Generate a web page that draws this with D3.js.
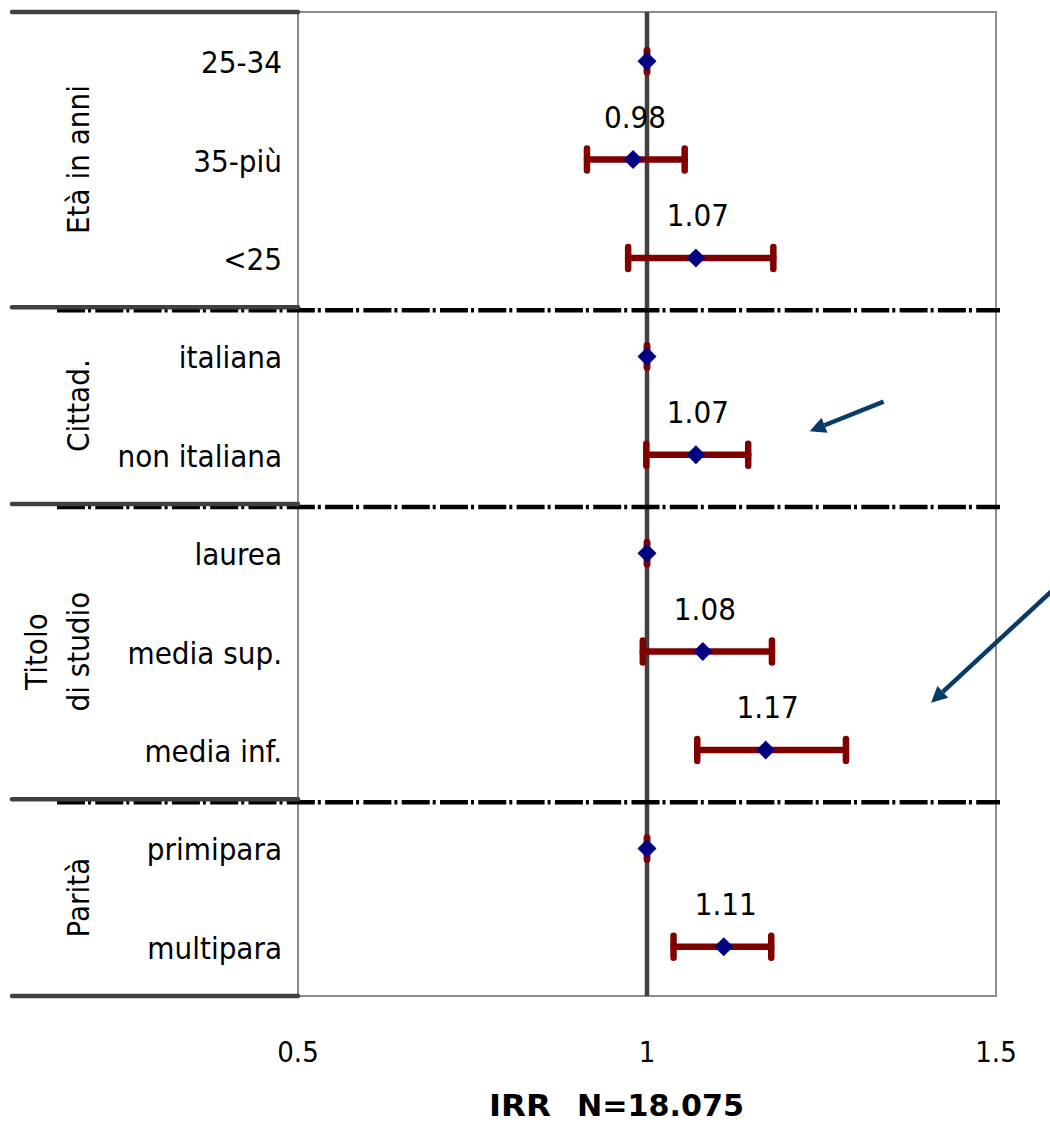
<!DOCTYPE html>
<html>
<head>
<meta charset="utf-8">
<script src="https://cdn.jsdelivr.net/npm/d3@7"></script>
<style>
  html, body { margin: 0; padding: 0; background: #fff; }
  svg { display: block; }
  text { font-family: "DejaVu Sans Condensed", "DejaVu Sans", sans-serif; font-stretch: condensed; fill: #000; }
</style>
</head>
<body>
<svg id="chart" width="1050" height="1122"></svg>
<script>
// Rows of the forest plot, top to bottom
const categories = ["25-34", "35-più", "<25", "italiana", "non italiana",
                    "laurea", "media sup.", "media inf.", "primipara", "multipara"];
// Incidence rate ratios and 95% confidence limits (reference levels = 1)
const irr    = [1, 0.98,  1.07,  1, 1.07,  1, 1.08,  1.17,  1, 1.11];
const ciLow  = [1, 0.914, 0.973, 1, 0.999, 1, 0.994, 1.072, 1, 1.038];
const ciHigh = [1, 1.054, 1.181, 1, 1.145, 1, 1.179, 1.285, 1, 1.178];
// Variable groups: label lines and number of rows in each
const groupNames = [["Età in anni"], ["Cittad."], ["Titolo", "di studio"], ["Parità"]];
const groupSizes = [3, 2, 3, 2];
// Axis
const xTicks = [0.5, 1, 1.5];
const xTitleParts = ["IRR", "N=18.075"];
// Callout arrows: [x value, row position] of tail and head
const arrowTails = [[1.339, 3.96], [1.579, 5.89]];
const arrowHeads = [[1.233, 4.26], [1.407, 7.02]];

const svg = d3.select("#chart");
const plot = { left: 298, right: 996, top: 12, bottom: 996 };

const x = d3.scaleLinear().domain([0.5, 1.5]).range([plot.left, plot.right]);
const y = d3.scaleBand().domain(categories).range([plot.top, plot.bottom]).padding(0);
const yPos = d3.scaleLinear().domain([0, categories.length]).range([plot.top, plot.bottom]);
const yc = c => y(c) + y.bandwidth() / 2;

const rows = categories.map((c, i) => ({ cat: c, v: irr[i], lo: ciLow[i], hi: ciHigh[i] }));

// Plot frame
svg.append("rect")
  .attr("x", plot.left).attr("y", plot.top)
  .attr("width", plot.right - plot.left).attr("height", plot.bottom - plot.top)
  .attr("fill", "none").attr("stroke", "#8c8c8c").attr("stroke-width", 2);

// Reference line at IRR = 1
svg.append("line")
  .attr("x1", x(1)).attr("x2", x(1))
  .attr("y1", plot.top).attr("y2", plot.bottom)
  .attr("stroke", "#404040").attr("stroke-width", 4.5);

// Group boundaries
const bounds = [0];
groupSizes.forEach(s => bounds.push(bounds[bounds.length - 1] + s));

// Dash-dot separators between groups
svg.append("g").selectAll("line")
  .data(bounds.slice(1, -1))
  .join("line")
  .attr("x1", 57).attr("x2", 1000)
  .attr("y1", d => yPos(d) + 3).attr("y2", d => yPos(d) + 3)
  .attr("stroke", "#000").attr("stroke-width", 4.5)
  .attr("stroke-dasharray", "28,3,3,4.3");

// Solid rules in the label column
svg.append("g").selectAll("line")
  .data(bounds)
  .join("line")
  .attr("x1", 12).attr("x2", plot.left)
  .attr("y1", d => yPos(d)).attr("y2", d => yPos(d))
  .attr("stroke", "#404040").attr("stroke-width", 4.5)
  .attr("stroke-linecap", "round");

// Group labels (rotated)
const gl = svg.append("g");
groupNames.forEach((lines, gi) => {
  const cy = yPos((bounds[gi] + bounds[gi + 1]) / 2);
  const n = lines.length;
  lines.forEach((t, li) => {
    const cx = 78 - (n - 1 - li) * 42;
    gl.append("text")
      .attr("transform", `translate(${cx},${cy}) rotate(-90)`)
      .attr("text-anchor", "middle")
      .attr("dy", "0.35em")
      .attr("font-size", 31)
      .text(t);
  });
});

// Category labels
svg.append("g").selectAll("text")
  .data(categories)
  .join("text")
  .attr("x", 282).attr("y", d => yc(d) + 12)
  .attr("text-anchor", "end")
  .attr("font-size", 31)
  .text(d => d);

// Error bars
const eb = svg.append("g").attr("stroke", "#800000").attr("stroke-linecap", "round");
eb.selectAll("line.bar")
  .data(rows)
  .join("line").attr("class", "bar")
  .attr("x1", d => x(d.lo)).attr("x2", d => x(d.hi))
  .attr("y1", d => yc(d.cat)).attr("y2", d => yc(d.cat))
  .attr("stroke-width", 6.5);
const capH = 11;
eb.selectAll("line.capL")
  .data(rows)
  .join("line").attr("class", "capL")
  .attr("x1", d => x(d.lo)).attr("x2", d => x(d.lo))
  .attr("y1", d => yc(d.cat) - capH).attr("y2", d => yc(d.cat) + capH)
  .attr("stroke-width", 6.5);
eb.selectAll("line.capR")
  .data(rows)
  .join("line").attr("class", "capR")
  .attr("x1", d => x(d.hi)).attr("x2", d => x(d.hi))
  .attr("y1", d => yc(d.cat) - capH).attr("y2", d => yc(d.cat) + capH)
  .attr("stroke-width", 6.5);

// Point estimates (diamonds)
const dm = 9.5;
svg.append("g").selectAll("path")
  .data(rows)
  .join("path")
  .attr("d", d => {
    const cx = x(d.v), cy = yc(d.cat);
    return `M${cx},${cy - dm}L${cx + dm},${cy}L${cx},${cy + dm}L${cx - dm},${cy}Z`;
  })
  .attr("fill", "#000080");

// Value labels for non-reference levels
svg.append("g").selectAll("text")
  .data(rows.filter(d => d.v !== 1))
  .join("text")
  .attr("x", d => x(d.v) + 2)
  .attr("y", d => yc(d.cat) - 32)
  .attr("text-anchor", "middle")
  .attr("font-size", 31)
  .text(d => d3.format(".2f")(d.v));

// X tick labels
svg.append("g").selectAll("text")
  .data(xTicks)
  .join("text")
  .attr("x", d => x(d)).attr("y", 1062)
  .attr("text-anchor", "middle")
  .attr("font-size", 29)
  .text(d => d3.format("")(d));

// Axis title: "IRR" and the sample size, set apart
const title = svg.append("g").attr("font-weight", "bold");
title.append("text")
  .attr("x", 489).attr("y", 1116)
  .attr("font-size", 30)
  .attr("textLength", 62).attr("lengthAdjust", "spacingAndGlyphs")
  .text(xTitleParts[0]);
title.append("text")
  .attr("x", 577).attr("y", 1116)
  .attr("font-size", 30)
  .attr("textLength", 167).attr("lengthAdjust", "spacingAndGlyphs")
  .text(xTitleParts[1]);

// Callout arrows
const arrowColor = "#0a3a68";
const ag = svg.append("g");
arrowTails.forEach((t, i) => {
  const h = arrowHeads[i];
  const x0 = x(t[0]), y0 = yPos(t[1]), x1 = x(h[0]), y1 = yPos(h[1]);
  const ang = Math.atan2(y1 - y0, x1 - x0);
  const L = 16, W = 8;
  const bx = x1 - L * Math.cos(ang), by = y1 - L * Math.sin(ang);
  ag.append("line")
    .attr("x1", x0).attr("y1", y0).attr("x2", bx).attr("y2", by)
    .attr("stroke", arrowColor).attr("stroke-width", 4.5);
  const px = -Math.sin(ang) * W, py = Math.cos(ang) * W;
  ag.append("path")
    .attr("d", `M${x1},${y1}L${bx + px},${by + py}L${bx - px},${by - py}Z`)
    .attr("fill", arrowColor);
});
</script>
</body>
</html>
